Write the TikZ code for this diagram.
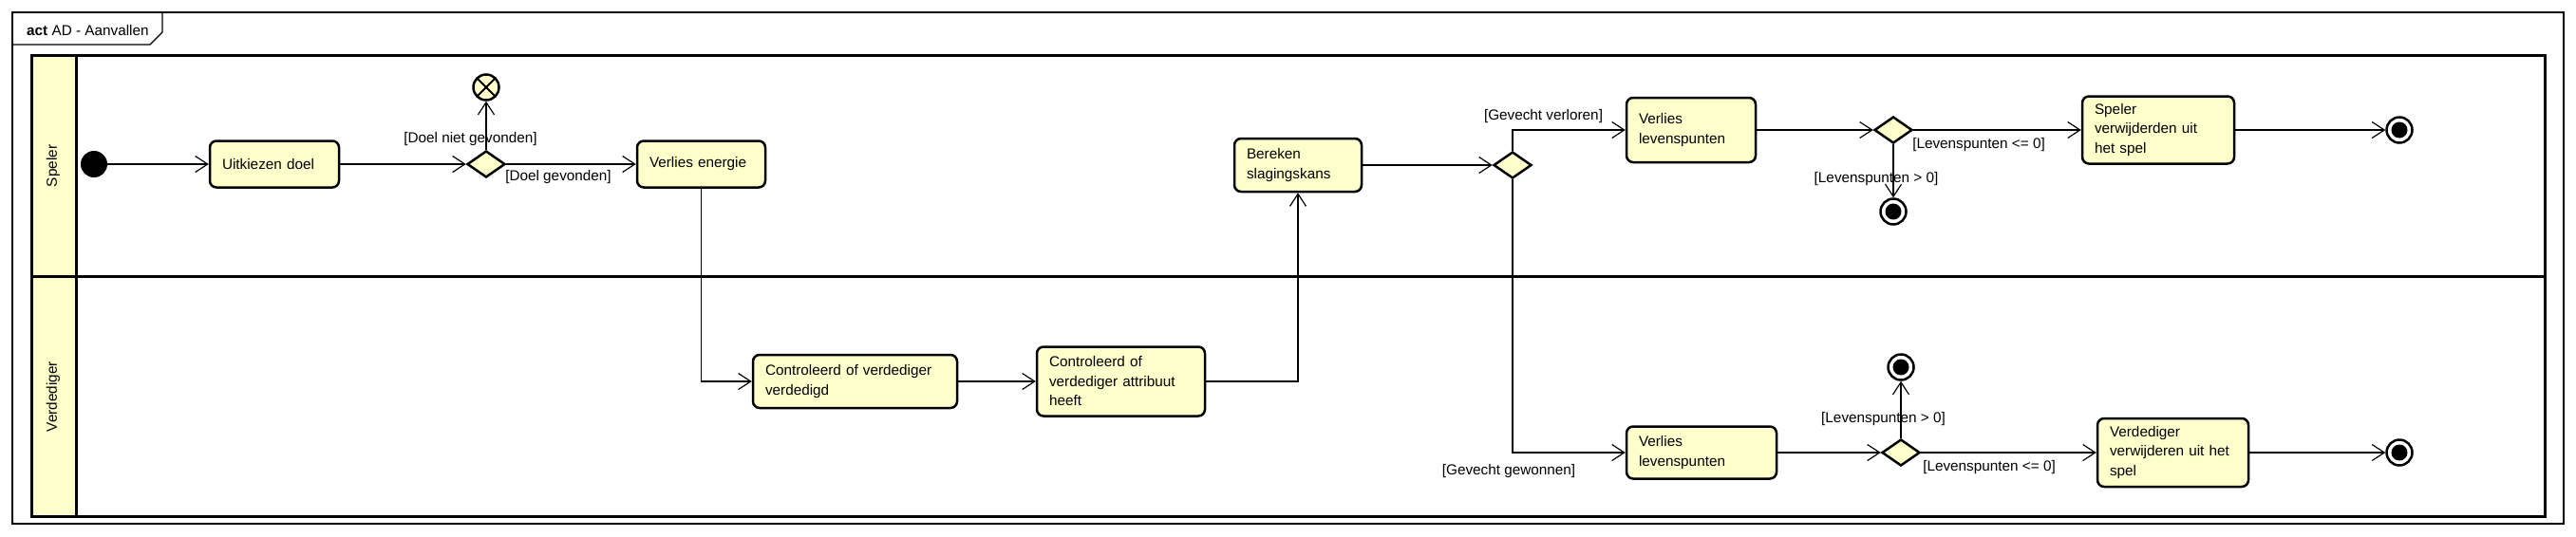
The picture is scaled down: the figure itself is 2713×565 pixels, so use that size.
\documentclass[tikz,border=0pt]{standalone}
\usepackage{fontspec}
\setmainfont{Liberation Sans}
\usetikzlibrary{arrows.meta,shapes.geometric}
\definecolor{actfill}{RGB}{255,255,204}

\begin{document}
\begin{tikzpicture}[x=1pt, y=-1pt, font=\fontsize{15.3}{20.5}\selectfont,
  act/.style = {draw, line width=2.5pt, rounded corners=7pt, fill=actfill, inner xsep=13pt, inner ysep=0pt, align=left},
  decision/.style = {diamond, draw, line width=2.5pt, fill=actfill, minimum width=40pt, minimum height=28pt, inner sep=0pt},
  start/.style = {circle, fill=black, minimum size=28pt, inner sep=0pt},
  actend/.style = {circle, draw, line width=2.5pt, fill=white, minimum size=27pt, inner sep=0pt,
    path picture={\fill[black] (path picture bounding box.center) circle (8.5pt);}},
  flowend/.style = {circle, draw, line width=2.5pt, fill=actfill, minimum size=27pt, inner sep=0pt,
    path picture={\draw[line width=2pt] (path picture bounding box.north west) -- (path picture bounding box.south east)
      (path picture bounding box.north east) -- (path picture bounding box.south west);}},
  guard/.style = {inner sep=0pt},
  flow/.style = {line width=1.2pt, -{Straight Barb[length=13pt, width=17pt, line width=1.2pt]}}]
	\useasboundingbox (0,0) rectangle (2713,565);
	% frame and swimlanes
	\draw[line width=1.2pt] (13,13) rectangle (2700,552);
	\draw[line width=1.2pt] (13,47) -- (158,47) -- (171,34) -- (171,13);
	\node[anchor=west, inner sep=0pt] (titel) at (28,32) {\textbf{act} AD - Aanvallen};
	\fill[actfill] (33,58) rectangle (80,544);
	\draw[line width=3pt] (33,58) rectangle (2680,544);
	\draw[line width=3pt] (80,58) -- (80,544);
	\draw[line width=3pt] (33,291) -- (2680,291);
	\node[rotate=90] (speler) at (56,175) {Speler};
	\node[rotate=90] (verdediger) at (56,418) {Verdediger};
	% nodes
	\node[start] (init) at (99,173){};
	\node[act, text width=110pt, minimum height=49pt] (doel) at (289,173) {Uitkiezen doel};
	\node[decision] (dec1) at (512,173){};
	\node[flowend] (stop) at (512,92){};
	\node[act, text width=109pt, minimum height=49pt] (energie) at (738.5,173) {Verlies energie};
	\node[act, text width=189pt, minimum height=56pt] (verdedigd) at (900.5,402) {Controleerd of verdediger\\verdedigd};
	\node[act, text width=151pt, minimum height=73pt] (attribuut) at (1180.5,402) {Controleerd of\\verdediger attribuut\\heeft};
	\node[act, text width=108pt, minimum height=56pt] (bereken) at (1367,174) {Bereken\\slagingskans};
	\node[decision] (dec2) at (1593,174){};
	\node[act, text width=110pt, minimum height=68pt] (verliesA) at (1781,137) {Verlies\\levenspunten};
	\node[decision] (dec3) at (1994,137){};
	\node[actend] (endC) at (1994,223){};
	\node[act, text width=134pt, minimum height=71pt] (spelerweg) at (2273,137) {Speler\\verwijderden uit\\het spel};
	\node[actend] (endA) at (2527,137){};
	\node[act, text width=132pt, minimum height=55pt] (verliesB) at (1792,477) {Verlies\\levenspunten};
	\node[decision] (dec4) at (2002,477){};
	\node[actend] (endD) at (2002,387){};
	\node[act, text width=133pt, minimum height=72pt] (verdedigerweg) at (2288.5,477) {Verdediger\\verwijderen uit het\\spel};
	\node[actend] (endB) at (2527,477){};
	% guards
	\node[guard] (gNiet) at (495.5,147) {[Doel niet gevonden]};
	\node[guard] (gGevonden) at (588,187) {[Doel gevonden]};
	\node[guard] (gVerloren) at (1625.5,123) {[Gevecht verloren]};
	\node[guard] (gGewonnen) at (1589,497) {[Gevecht gewonnen]};
	\node[guard] (gLeA) at (2084,153) {[Levenspunten <= 0]};
	\node[guard] (gGtA) at (1976,189) {[Levenspunten > 0]};
	\node[guard] (gGtB) at (1983.5,442) {[Levenspunten > 0]};
	\node[guard] (gLeB) at (2095,493) {[Levenspunten <= 0]};
	% flows
	\draw[flow] (init) -- (doel);
	\draw[flow] (doel) -- (dec1.west);
	\draw[flow] (dec1.north) -- (stop);
	\draw[flow] (dec1.east) -- (energie);
	\draw[flow] (energie.south) |- (verdedigd.west);
	\draw[flow] (verdedigd) -- (attribuut);
	\draw[flow] (attribuut.east) -| (bereken.south);
	\draw[flow] (bereken) -- (dec2.west);
	\draw[flow] (dec2.north) |- (verliesA.west);
	\draw[flow] (dec2.south) |- (verliesB.west);
	\draw[flow] (verliesA) -- (dec3.west);
	\draw[flow] (dec3.east) -- (spelerweg);
	\draw[flow] (dec3.south) -- (endC);
	\draw[flow] (spelerweg) -- (endA);
	\draw[flow] (verliesB) -- (dec4.west);
	\draw[flow] (dec4.north) -- (endD);
	\draw[flow] (dec4.east) -- (verdedigerweg);
	\draw[flow] (verdedigerweg) -- (endB);
\end{tikzpicture}
\end{document}
